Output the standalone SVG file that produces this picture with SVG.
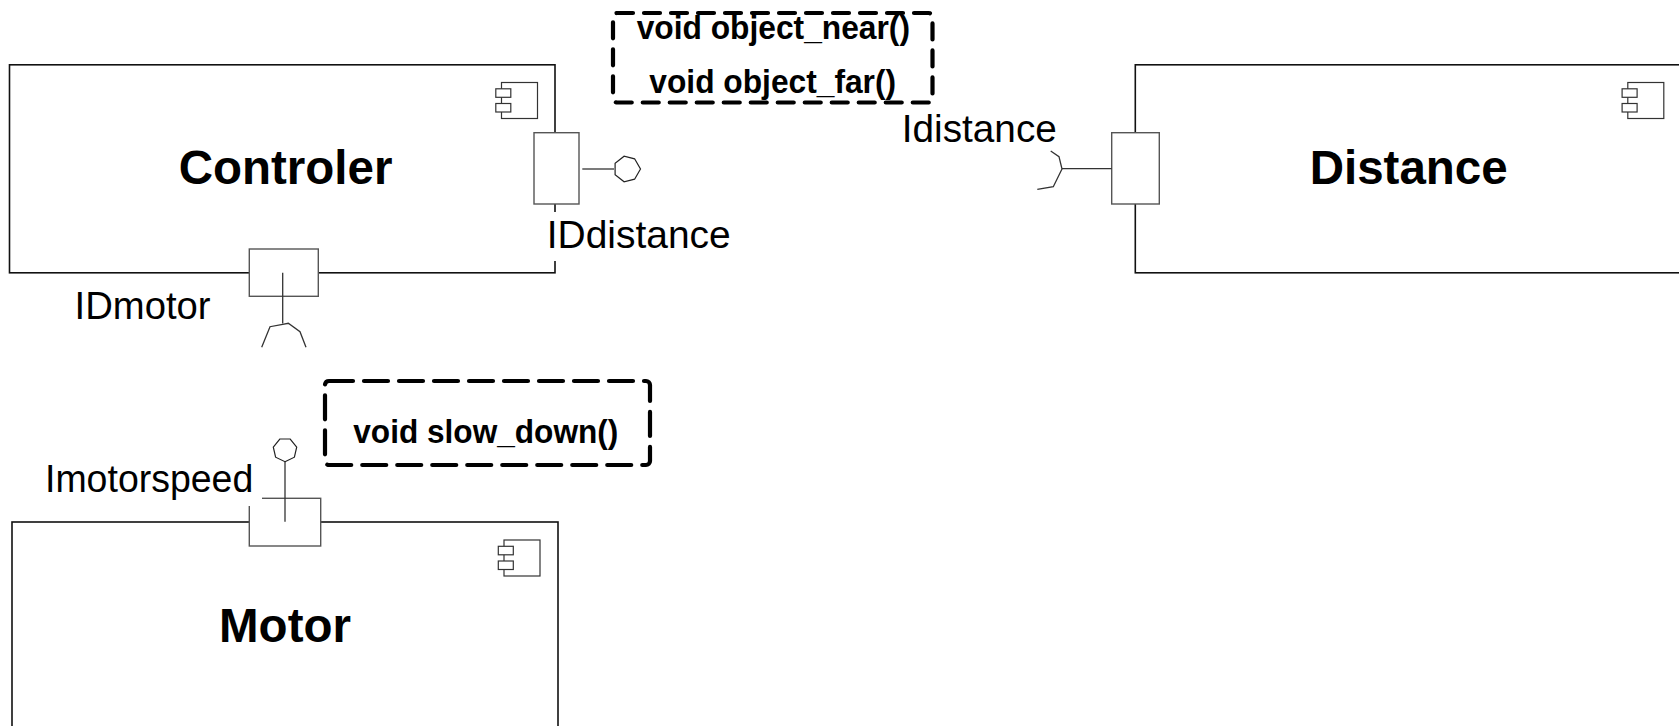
<svg xmlns="http://www.w3.org/2000/svg" xmlns:xlink="http://www.w3.org/1999/xlink" width="1679" height="726" viewBox="0 0 1679 726">
  <style>
    .box { fill: #fff; stroke: #111; stroke-width: 1.6; }
    .port { fill: #fff; stroke: #555; stroke-width: 1.4; }
    .icon { fill: #fff; stroke: #333; stroke-width: 1.2; }
    .stub { fill: none; stroke: #333; stroke-width: 1.3; }
    .ball { fill: #fff; stroke: #222; stroke-width: 1.2; }
    .name { font-family: "Liberation Sans", Arial, sans-serif; font-weight: bold; font-size: 47.5px; fill: #000; text-anchor: middle; }
    .label { font-family: "Liberation Sans", Arial, sans-serif; font-size: 39px; fill: #000; }
    .op { font-family: "Liberation Sans", Arial, sans-serif; font-weight: bold; font-size: 33px; fill: #000; }
    .bg { fill: #fff; stroke: none; }
    .note { fill: none; stroke: #000; stroke-width: 4.2; stroke-linecap: round; }
  </style>
  <defs>
    <!-- UML component glyph: body with two tabs on its left side -->
    <g id="compIcon">
      <rect class="icon" x="0" y="0" width="36" height="36"/>
      <rect class="icon" x="-5.7" y="6.3" width="15" height="8.5"/>
      <rect class="icon" x="-5.7" y="21" width="15" height="8.5"/>
    </g>
  </defs>

  <rect x="0" y="0" width="1679" height="726" fill="#fff"/>

  <!-- Controler component -->
  <g id="controler">
    <rect class="box" x="9.5" y="64.8" width="545.5" height="208"/>
    <use xlink:href="#compIcon" x="501.5" y="82.5"/>
    <text class="name" x="285.5" y="183.8">Controler</text>
    <!-- provided port on the right side -->
    <rect class="port" x="534" y="132.7" width="45" height="71.3"/>
    <!-- required port on the bottom side -->
    <rect class="port" x="249.3" y="249" width="69" height="47.3"/>
    <rect class="bg" x="544" y="212" width="192" height="49"/>
    <text class="label" x="546.7" y="248.3" textLength="184" lengthAdjust="spacingAndGlyphs">IDdistance</text>
    <text class="label" x="74.6" y="319.3" textLength="136" lengthAdjust="spacingAndGlyphs">IDmotor</text>
  </g>

  <!-- Distance component -->
  <g id="distance">
    <rect class="box" x="1135.3" y="64.8" width="546" height="208"/>
    <use xlink:href="#compIcon" x="1627.8" y="82.5"/>
    <text class="name" x="1408.7" y="183.8">Distance</text>
    <rect class="port" x="1111.7" y="132.7" width="47.6" height="71.3"/>
    <text class="label" x="901.8" y="141.7" textLength="155" lengthAdjust="spacingAndGlyphs">Idistance</text>
  </g>

  <!-- Motor component -->
  <g id="motor">
    <rect class="box" x="12" y="522" width="546" height="208"/>
    <use xlink:href="#compIcon" x="504" y="540"/>
    <text class="name" x="285" y="642.2">Motor</text>
    <rect class="port" x="249.3" y="498.3" width="71.4" height="47.7"/>
    <rect class="bg" x="40" y="458" width="222" height="48"/>
    <text class="label" x="45" y="491.7" textLength="208.3" lengthAdjust="spacingAndGlyphs">Imotorspeed</text>
  </g>

  <!-- Operations offered through the distance interface -->
  <g id="note-distance">
    <rect class="note" x="613" y="13" width="319.5" height="89.5" rx="4" stroke-dasharray="16 11"/>
    <text class="op" x="636.7" y="39" textLength="273.3" lengthAdjust="spacingAndGlyphs">void object_near()</text>
    <text class="op" x="649.3" y="93" textLength="246.8" lengthAdjust="spacingAndGlyphs">void object_far()</text>
  </g>

  <!-- Operations offered through the motor interface -->
  <g id="note-motor">
    <rect class="note" x="325" y="381" width="325" height="84" rx="4" stroke-dasharray="24 11"/>
    <text class="op" x="353.3" y="443.3" textLength="265" lengthAdjust="spacingAndGlyphs">void slow_down()</text>
  </g>

  <!-- Interface stubs: lollipops (provided) and sockets (required) -->
  <g id="connectors">
    <!-- IDdistance: provided interface on Controler -->
    <line class="stub" x1="582.3" y1="169" x2="614" y2="169"/>
    <polygon class="ball" points="640.5,169 634.6,179.2 624.1,181.8 615.1,174.6 615.1,163.4 624.1,156.2 634.6,158.8"/>
    <!-- IDmotor: required interface on Controler -->
    <line class="stub" x1="282.7" y1="272.7" x2="282.7" y2="323.5"/>
    <polyline class="stub" points="261.7,347.3 270,326.7 282.7,324.3 288.3,323.3 300,331.7 306,347.3"/>
    <!-- Idistance: required interface on Distance -->
    <line class="stub" x1="1062" y1="168.7" x2="1111.7" y2="168.7"/>
    <polyline class="stub" points="1050.7,151 1059,156.7 1062,169 1053.3,186.7 1037.3,189.3"/>
    <!-- Imotorspeed: provided interface on Motor -->
    <line class="stub" x1="285" y1="521.7" x2="285" y2="461.7"/>
    <polygon class="ball" points="285,461.7 294.4,457.2 296.7,447.1 290.2,439 279.8,439 273.3,447.1 275.6,457.2"/>
  </g>
</svg>
